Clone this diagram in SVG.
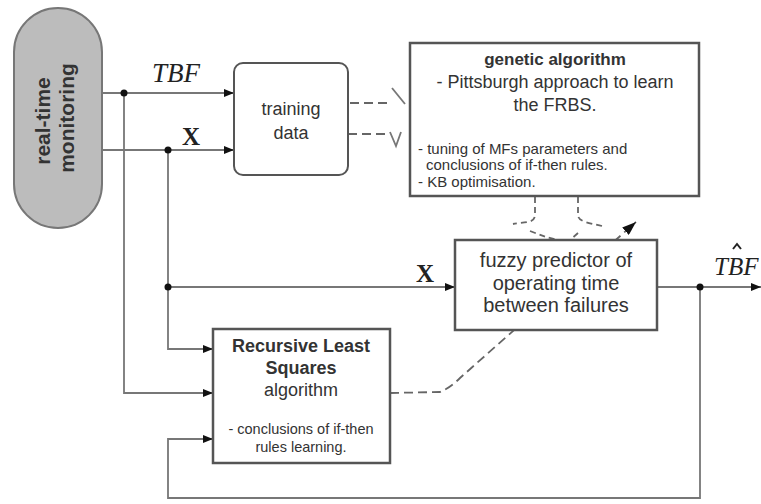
<svg xmlns="http://www.w3.org/2000/svg" width="761" height="504" viewBox="0 0 761 504">
<defs>
<marker id="ah" viewBox="0 0 10 8" refX="10" refY="4" markerWidth="10" markerHeight="8" markerUnits="userSpaceOnUse" orient="auto">
<path d="M0,0 L10,4 L0,8 Z" fill="#111"/>
</marker>
<marker id="ah2" viewBox="0 0 14 10" refX="14" refY="5" markerWidth="14" markerHeight="10" markerUnits="userSpaceOnUse" orient="auto">
<path d="M0,0 L14,5 L0,10 Z" fill="#111"/>
</marker>
</defs>
<style>
.box{fill:#fff;stroke:#555;stroke-width:2.5}
.ln{fill:none;stroke:#777;stroke-width:1.8}
.dl{fill:none;stroke:#666;stroke-width:1.8;stroke-dasharray:9 5}
.dot{fill:#111}
.t{font-family:"Liberation Sans",Arial,sans-serif;fill:#333}
.b{font-weight:bold}
.m{text-anchor:middle}
.s{font-family:"Liberation Serif","Times New Roman",serif;fill:#222}
</style>
<rect width="761" height="504" fill="#fff"/>

<g id="connectors">
<path class="ln" d="M102,93 H234" marker-end="url(#ah)"/>
<path class="ln" d="M102,150 H234" marker-end="url(#ah)"/>
<path class="ln" d="M124,93 V393 H213" marker-end="url(#ah)"/>
<path class="ln" d="M168,150 V349 H213" marker-end="url(#ah)"/>
<path class="ln" d="M168,287 H455" marker-end="url(#ah)"/>
<path class="ln" d="M657,287 H761" marker-end="url(#ah)"/>
<path class="ln" d="M700,287 V498 H168 V439 H213" marker-end="url(#ah)"/>
<circle class="dot" cx="124" cy="93" r="3.5"/>
<circle class="dot" cx="168" cy="150" r="3.5"/>
<circle class="dot" cx="168" cy="287" r="3.5"/>
<circle class="dot" cx="700" cy="287" r="3.5"/>
<path class="dl" d="M350,103 H390"/>
<path class="ln" d="M392,88 L405,104"/>
<path class="dl" d="M348,134 H388"/>
<path class="ln" d="M390,132 L396,146 L401,132"/>
<path class="dl" d="M535,197 V215 C535,224 522,222 513,224" style="stroke-dasharray:6 4"/>
<path class="dl" d="M530,231 C540,235 548,238 558,240" style="stroke-dasharray:6 4"/>
<path class="dl" d="M578,197 V215 C578,222 590,223 602,226" style="stroke-dasharray:6 4"/>
<path class="dl" d="M578,233 L570,240" style="stroke-dasharray:6 4"/>
<path class="dl" d="M390,393 L440,392 Q450,388 460,378 L636,222" marker-end="url(#ah2)"/>
</g>

<g id="monitoring">
<rect x="14" y="8" width="88" height="220" rx="44" ry="44" fill="#bcbcbc" stroke="#777" stroke-width="2"/>
<text class="t b m" font-size="21" transform="translate(50,121) rotate(-90)">real-time</text>
<text class="t b m" font-size="21" transform="translate(74,118) rotate(-90)">monitoring</text>
</g>

<g id="labels">
<text class="s" font-size="27" font-style="italic" x="152" y="82">TBF</text>
<text class="s" font-size="25" font-weight="bold" x="191" y="145" text-anchor="middle">X</text>
<text class="s" font-size="25" font-weight="bold" x="425" y="282" text-anchor="middle">X</text>
<text class="s" font-size="25" font-style="italic" x="714" y="275">TBF</text>
<path d="M733,249 L737,244 L741,249" fill="none" stroke="#222" stroke-width="2"/>
</g>

<g id="training">
<rect class="box" x="234" y="63" width="114" height="112" rx="9" ry="9" style="stroke-width:2"/>
<text class="t m" font-size="18" x="291" y="115" fill="#555">training</text>
<text class="t m" font-size="18" x="291" y="139" fill="#555">data</text>
</g>

<g id="genetic">
<rect class="box" x="410" y="43" width="289" height="153"/>
<text class="t b m" font-size="17" x="555" y="65">genetic algorithm</text>
<text class="t m" font-size="18" x="555" y="88">- Pittsburgh approach to learn</text>
<text class="t m" font-size="18" x="555" y="111">the FRBS.</text>
<text class="t" font-size="15" x="418" y="154">- tuning of MFs parameters and</text>
<text class="t" font-size="15" x="426" y="170">conclusions of if-then rules.</text>
<text class="t" font-size="15" x="418" y="187">- KB optimisation.</text>
</g>

<g id="fuzzy">
<rect class="box" x="455" y="240" width="202" height="90"/>
<text class="t m" font-size="20" x="556" y="267">fuzzy predictor of</text>
<text class="t m" font-size="20" x="556" y="290">operating time</text>
<text class="t m" font-size="20" x="556" y="312">between failures</text>
</g>

<g id="rls">
<rect class="box" x="213" y="329" width="177" height="134"/>
<text class="t b m" font-size="18" x="301" y="352">Recursive Least</text>
<text class="t b m" font-size="18" x="301" y="374">Squares</text>
<text class="t m" font-size="18" x="301" y="396">algorithm</text>
<text class="t m" font-size="14.5" x="301" y="434">- conclusions of if-then</text>
<text class="t m" font-size="14.5" x="301" y="452">rules learning.</text>
</g>
</svg>
